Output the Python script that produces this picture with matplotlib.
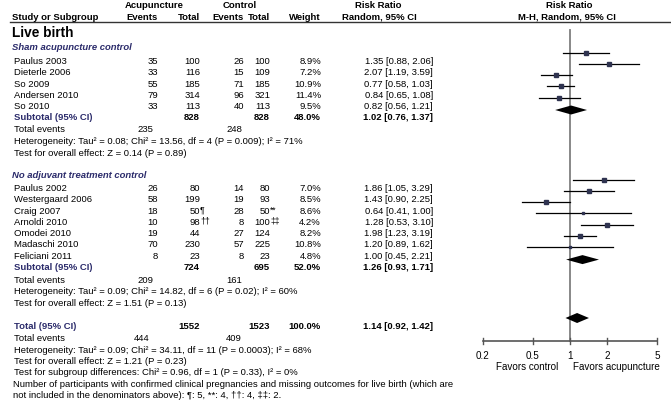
import matplotlib
matplotlib.use('Agg')
from matplotlib import pyplot as plt

plt.rcParams['font.family'] = ['Liberation Sans', 'DejaVu Sans']

### Data
g1_names = ['Paulus 2003', 'Dieterle 2006', 'So 2009', 'Andersen 2010', 'So 2010']
g1_ev_a = ['35', '33', '55', '79', '33']
g1_tot_a = ['100', '116', '185', '314', '113']
g1_ev_c = ['26', '15', '71', '96', '40']
g1_tot_c = ['100', '109', '185', '321', '113']
g1_weight = [8.9, 7.2, 10.9, 11.4, 9.5]
g1_rr = [1.35, 2.07, 0.77, 0.84, 0.82]
g1_lo = [0.88, 1.19, 0.58, 0.65, 0.56]
g1_hi = [2.06, 3.59, 1.03, 1.08, 1.21]
g1_sub = (1.02, 0.76, 1.37)

g2_names = ['Paulus 2002', 'Westergaard 2006', 'Craig 2007', 'Arnoldi 2010',
            'Omodei 2010', 'Madaschi 2010', 'Feliciani 2011']
g2_ev_a = ['26', '58', '18', '10', '19', '70', '8']
g2_tot_a = ['80', '199', '50', '98', '44', '230', '23']
g2_mark_a = ['', '', '¶', '††', '', '', '']
g2_ev_c = ['14', '19', '28', '8', '27', '57', '8']
g2_tot_c = ['80', '93', '50', '100', '124', '225', '23']
g2_mark_c = ['', '', '**', '‡‡', '', '', '']
g2_weight = [7.0, 8.5, 8.6, 4.2, 8.2, 10.8, 4.8]
g2_rr = [1.86, 1.43, 0.64, 1.28, 1.98, 1.20, 1.00]
g2_lo = [1.05, 0.90, 0.41, 0.53, 1.23, 0.89, 0.45]
g2_hi = [3.29, 2.25, 1.00, 3.10, 3.19, 1.62, 2.21]
g2_sub = (1.26, 0.93, 1.71)

total_rr = (1.14, 0.92, 1.42)

ticks = [0.2, 0.5, 1, 2, 5]

### Figure setup (pixel coordinates)
W, H = 671, 414
fig = plt.figure(figsize=(W / 100, H / 100), dpi=100)
ax = fig.add_axes([0, 0, 1, 1])
ax.set_xlim(0, W)
ax.set_ylim(H, 0)
ax.axis('off')

fax = fig.add_axes([483 / W, 0, 174 / W, 1])
fax.set_xscale('log')
fax.set_xlim(0.2, 5)
fax.set_ylim(H, 0)
fax.axis('off')

fs = 6.8
navy = '#2b2b6b'
sq = '#2f3350'

# column anchors (right aligned)
cx = {'ea': 158, 'ta': 200, 'ec': 244, 'tc': 270, 'w': 321, 'rr': 433}


def t(x, y, s, **kw):
    kw.setdefault('fontsize', fs)
    kw.setdefault('va', 'center')
    ax.text(x, y, s, **kw)


### Header
t(154, 6, 'Acupuncture', ha='center', weight='bold')
t(240, 6, 'Control', ha='center', weight='bold')
t(378, 6, 'Risk Ratio', ha='center', weight='bold')
t(569, 6, 'Risk Ratio', ha='center', weight='bold')
t(12, 17, 'Study or Subgroup', weight='bold')
t(cx['ea'], 17, 'Events', ha='right', weight='bold')
t(cx['ta'], 17, 'Total', ha='right', weight='bold')
t(cx['ec'], 17, 'Events', ha='right', weight='bold')
t(cx['tc'], 17, 'Total', ha='right', weight='bold')
t(cx['w'], 17, 'Weight', ha='right', weight='bold')
t(379, 17, 'Random, 95% CI', ha='center', weight='bold')
t(567, 17, 'M-H, Random, 95% CI', ha='center', weight='bold')
ax.plot([10, W], [22.5, 22.5], color='#333333', lw=1.0)

t(12, 33, 'Live birth', weight='bold', fontsize=9.8)

step = 11.3
off = 8


def study_rows(y0, names, ea, ta, ec, tc, w, rr, lo, hi, ma=None, mc=None):
    ys = []
    for i in range(len(names)):
        y = y0 + i * step
        ys.append(y)
        t(14, y, names[i])
        t(cx['ea'], y, ea[i], ha='right')
        t(cx['ta'], y, ta[i], ha='right')
        if ma and ma[i]:
            t(cx['ta'], y - 1, ma[i], ha='left', fontsize=fs - 0.6)
        t(cx['ec'], y, ec[i], ha='right')
        t(cx['tc'], y, tc[i], ha='right')
        if mc and mc[i]:
            t(cx['tc'], y - 1, mc[i], ha='left', fontsize=fs - 0.6)
        t(cx['w'], y, '%.1f%%' % w[i], ha='right')
        t(cx['rr'], y, '%.2f [%.2f, %.2f]' % (rr[i], lo[i], hi[i]), ha='right')
        my = y - off
        fax.plot([lo[i], hi[i]], [my, my], color='black', lw=0.9, zorder=3)
        fax.plot(rr[i], my, marker='s', ms=(1.6 + 0.22 * w[i]) * 0.72,
                 color=sq, mec=sq, zorder=4)
    return ys


def diamond(y, est, lo, hi, h=4.5):
    fax.fill([lo, est, hi, est], [y, y - h, y, y + h], color='black', lw=0, zorder=4)


### Group 1
t(12, 48, 'Sham acupuncture control', weight='bold', style='italic', color=navy)
ys = study_rows(61.5, g1_names, g1_ev_a, g1_tot_a, g1_ev_c, g1_tot_c,
                g1_weight, g1_rr, g1_lo, g1_hi)
y = ys[-1] + step
t(14, y, 'Subtotal (95% CI)', weight='bold', color=navy)
t(cx['ta'], y, '828', ha='right', weight='bold')
t(cx['tc'], y, '828', ha='right', weight='bold')
t(cx['w'], y, '48.0%', ha='right', weight='bold')
t(cx['rr'], y, '%.2f [%.2f, %.2f]' % g1_sub, ha='right', weight='bold')
diamond(y - off + 1, *g1_sub)
y += step + 0.5
t(14, y, 'Total events')
t(153, y, '235', ha='right')
t(242, y, '248', ha='right')
t(14, y + step + 0.5, 'Heterogeneity: Tau² = 0.08; Chi² = 13.56, df = 4 (P = 0.009); I² = 71%')
t(14, y + 2 * step + 1, 'Test for overall effect: Z = 0.14 (P = 0.89)')

### Group 2
t(12, 176, 'No adjuvant treatment control', weight='bold', style='italic', color=navy)
ys = study_rows(188.5, g2_names, g2_ev_a, g2_tot_a, g2_ev_c, g2_tot_c,
                g2_weight, g2_rr, g2_lo, g2_hi, g2_mark_a, g2_mark_c)
y = ys[-1] + step
t(14, y, 'Subtotal (95% CI)', weight='bold', color=navy)
t(cx['ta'], y, '724', ha='right', weight='bold')
t(cx['tc'], y, '695', ha='right', weight='bold')
t(cx['w'], y, '52.0%', ha='right', weight='bold')
t(cx['rr'], y, '%.2f [%.2f, %.2f]' % g2_sub, ha='right', weight='bold')
diamond(y - off + 1, *g2_sub)
y += step + 1.5
t(14, y, 'Total events')
t(153, y, '209', ha='right')
t(242, y, '161', ha='right')
t(14, y + step, 'Heterogeneity: Tau² = 0.09; Chi² = 14.82, df = 6 (P = 0.02); I² = 60%')
t(14, y + 2 * step, 'Test for overall effect: Z = 1.51 (P = 0.13)')

### Overall
y = 326.5
t(14, y, 'Total (95% CI)', weight='bold', color=navy)
t(cx['ta'], y, '1552', ha='right', weight='bold')
t(cx['tc'], y, '1523', ha='right', weight='bold')
t(cx['w'], y, '100.0%', ha='right', weight='bold')
t(cx['rr'], y, '%.2f [%.2f, %.2f]' % total_rr, ha='right', weight='bold')
diamond(y - 7.5, *total_rr, h=5)
y += step + 1
t(14, y, 'Total events')
t(150, y, '444', ha='right')
t(242, y, '409', ha='right')
t(14, y + step, 'Heterogeneity: Tau² = 0.09; Chi² = 34.11, df = 11 (P = 0.0003); I² = 68%')
t(14, y + 2 * step, 'Test for overall effect: Z = 1.21 (P = 0.23)')
t(14, y + 3 * step, 'Test for subgroup differences: Chi² = 0.96, df = 1 (P = 0.33), I² = 0%')
t(13, 384.5, 'Number of participants with confirmed clinical pregnancies and missing outcomes for live birth (which are')
t(13, 395.5, 'not included in the denominators above): ¶: 5, **: 4, ††: 4, ‡‡: 2.')

### Forest axis
axis_y = 341.7
fax.plot([1, 1], [31, axis_y], color='#7f7f7f', lw=1.3, zorder=2)
fax.plot([ticks[0], ticks[-1]], [axis_y, axis_y], color='#555555', lw=1.2, clip_on=False)
for tk in ticks:
    fax.plot([tk, tk], [axis_y - 3, axis_y + 3], color='#555555', lw=1.0, clip_on=False)
    fax.text(tk, 356, '%g' % tk, ha='center', va='center', fontsize=fs + 0.3, clip_on=False)
fax.text(0.45, 367.5, 'Favors control', ha='center', va='center', fontsize=fs + 0.3, clip_on=False)
fax.text(2.34, 367.5, 'Favors acupuncture', ha='center', va='center', fontsize=fs + 0.3, clip_on=False)

plt.savefig('out.png', dpi=100)
